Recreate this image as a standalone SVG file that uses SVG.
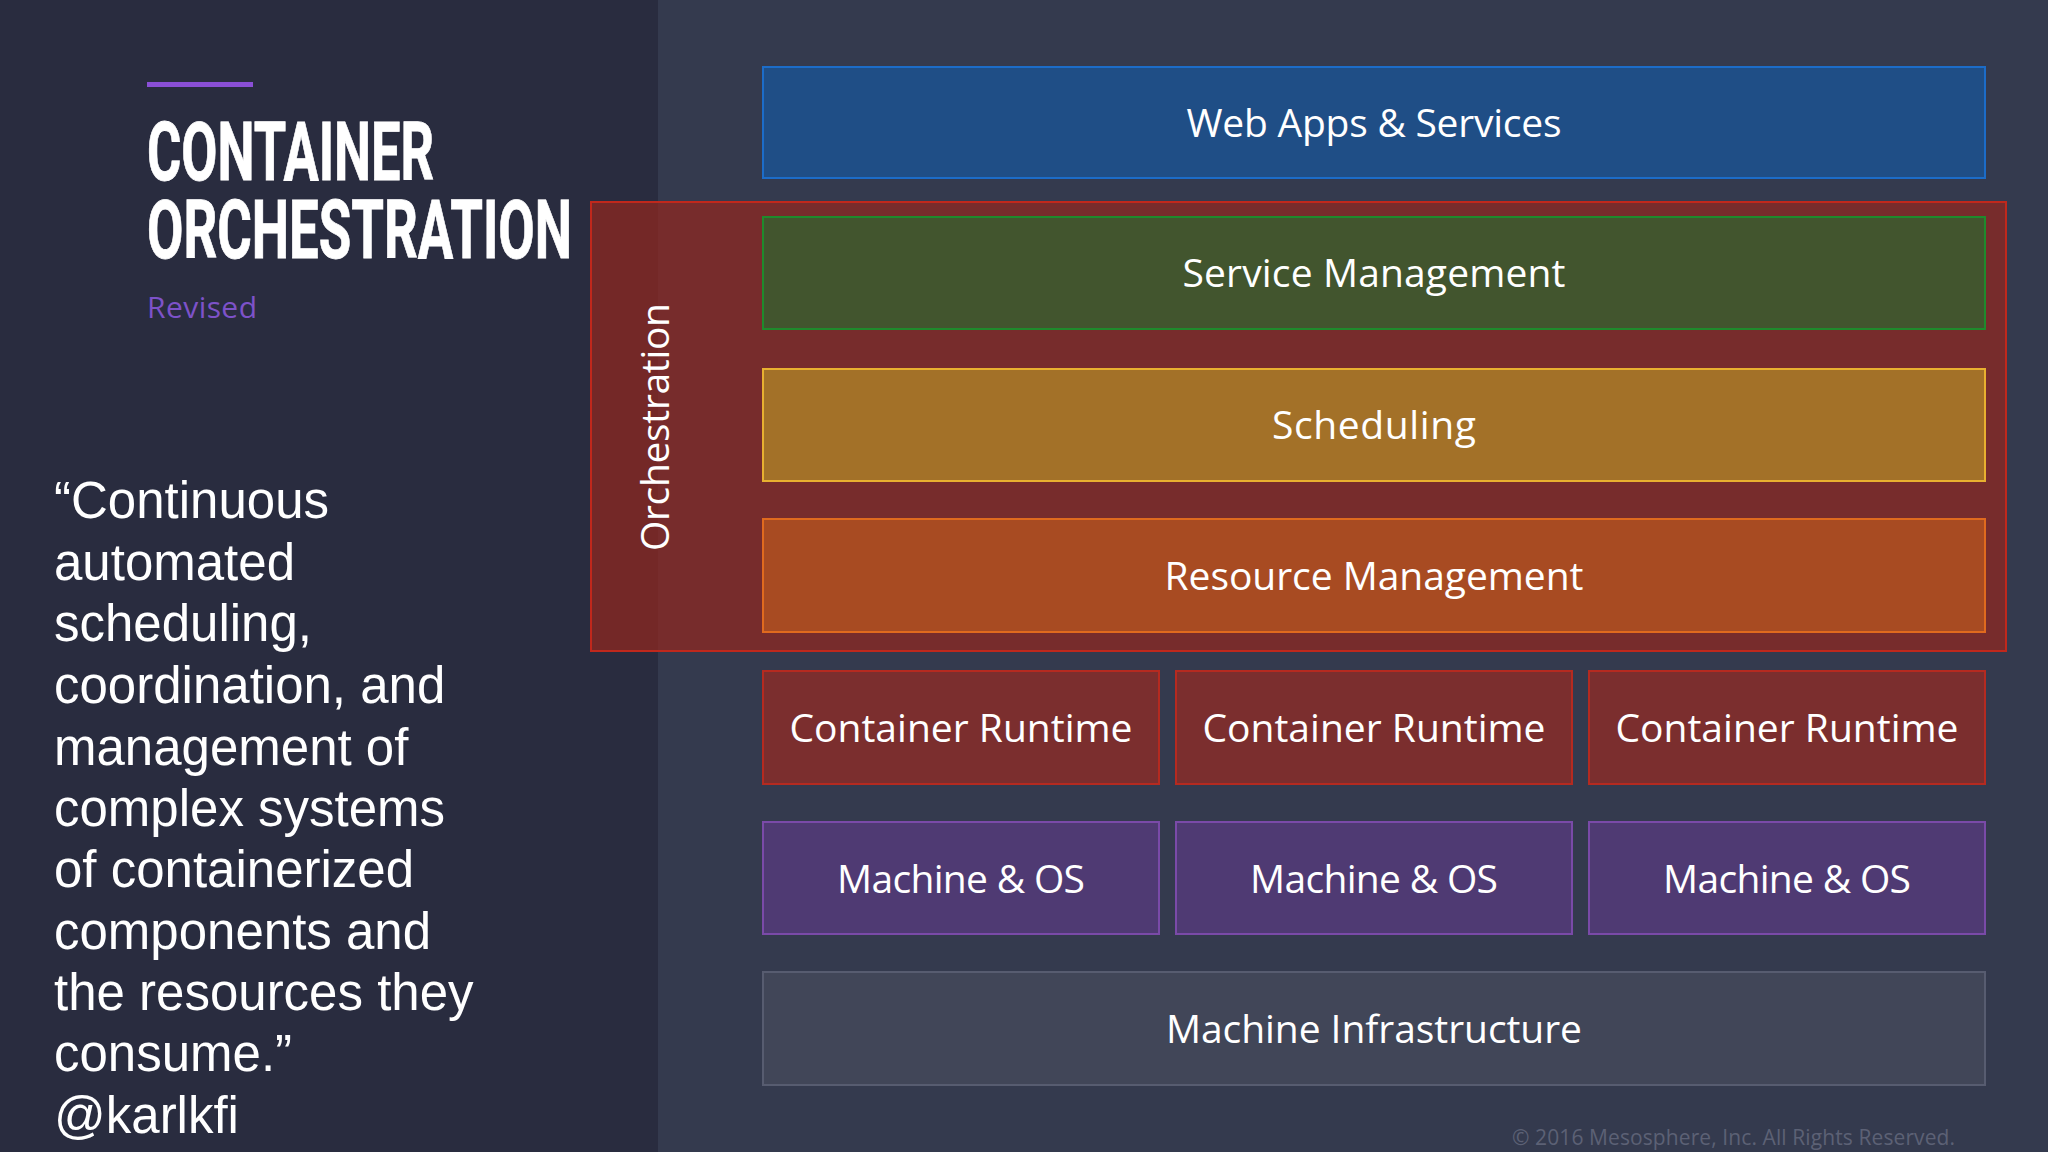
<svg xmlns="http://www.w3.org/2000/svg" width="2048" height="1152" viewBox="0 0 2048 1152">
  <style>
    .lbl { font-family: "Open Sans", "Noto Sans", "Liberation Sans", sans-serif; font-size: 39px; fill: #ffffff; text-anchor: middle; }
    .quote { font-family: "Liberation Sans", Arial, sans-serif; font-size: 51px; fill: #ffffff; }
    .title { font-family: Roboto, "Liberation Sans", sans-serif; font-weight: 700; font-size: 81px; fill: #ffffff; stroke: #ffffff; stroke-width: 0.8px; }
    .box { stroke-width: 2px; }
  </style>
  <rect x="0" y="0" width="2048" height="1152" fill="#343a4e"/>
  <rect x="0" y="0" width="658" height="1152" fill="#292c3f"/>

  <g id="title">
    <rect x="147" y="82" width="106" height="5" fill="#8a4fd6"/>
    <text class="title" x="147" y="180" textLength="287" lengthAdjust="spacingAndGlyphs">CONTAINER</text>
    <text class="title" x="147" y="258" textLength="425" lengthAdjust="spacingAndGlyphs">ORCHESTRATION</text>
    <text x="147" y="318" font-family="'Open Sans', 'Noto Sans', sans-serif" font-size="30" fill="#7d52c9" textLength="110">Revised</text>
  </g>

  <g id="quote" class="quote">
    <text x="54" y="518">“Continuous</text>
    <text x="54" y="580">automated</text>
    <text x="54" y="641">scheduling,</text>
    <text x="54" y="703">coordination, and</text>
    <text x="54" y="765">management of</text>
    <text x="54" y="826">complex systems</text>
    <text x="54" y="887">of containerized</text>
    <text x="54" y="949">components and</text>
    <text x="54" y="1010">the resources they</text>
    <text x="54" y="1071">consume.”</text>
    <text x="54" y="1133">@karlkfi</text>
  </g>

  <g id="web-apps">
    <rect class="box" x="763" y="67" width="1222" height="111" fill="#1f4e86" stroke="#1c6cc8"/>
    <text class="lbl" x="1374" y="137" textLength="375">Web Apps &amp; Services</text>
  </g>

  <g id="orchestration">
    <rect x="591" y="202" width="1415" height="449" fill="rgb(148,38,30)" fill-opacity="0.7" stroke="#c0281c" stroke-width="2"/>
    <text class="lbl" transform="translate(669,427) rotate(-90)" x="0" y="0" font-size="38" textLength="248">Orchestration</text>
  </g>

  <g id="service-management">
    <rect class="box" x="763" y="217" width="1222" height="112" fill="#42552e" stroke="#1f8a2c"/>
    <text class="lbl" x="1374" y="287" textLength="383">Service Management</text>
  </g>

  <g id="scheduling">
    <rect class="box" x="763" y="369" width="1222" height="112" fill="#a37128" stroke="#e8b030"/>
    <text class="lbl" x="1374" y="439" textLength="204">Scheduling</text>
  </g>

  <g id="resource-management">
    <rect class="box" x="763" y="519" width="1222" height="113" fill="#a84b22" stroke="#e06a1e"/>
    <text class="lbl" x="1374" y="590" textLength="419">Resource Management</text>
  </g>

  <g id="container-runtime-1">
    <rect class="box" x="763" y="671" width="396" height="113" fill="#7b2e2e" stroke="#b52a20"/>
    <text class="lbl" x="961" y="742" textLength="343">Container Runtime</text>
  </g>
  <g id="container-runtime-2">
    <rect class="box" x="1176" y="671" width="396" height="113" fill="#7b2e2e" stroke="#b52a20"/>
    <text class="lbl" x="1374" y="742" textLength="343">Container Runtime</text>
  </g>
  <g id="container-runtime-3">
    <rect class="box" x="1589" y="671" width="396" height="113" fill="#7b2e2e" stroke="#b52a20"/>
    <text class="lbl" x="1787" y="742" textLength="343">Container Runtime</text>
  </g>

  <g id="machine-os-1">
    <rect class="box" x="763" y="822" width="396" height="112" fill="#4f3a73" stroke="#7a4aa8"/>
    <text class="lbl" x="961" y="893" textLength="248">Machine &amp; OS</text>
  </g>
  <g id="machine-os-2">
    <rect class="box" x="1176" y="822" width="396" height="112" fill="#4f3a73" stroke="#7a4aa8"/>
    <text class="lbl" x="1374" y="893" textLength="248">Machine &amp; OS</text>
  </g>
  <g id="machine-os-3">
    <rect class="box" x="1589" y="822" width="396" height="112" fill="#4f3a73" stroke="#7a4aa8"/>
    <text class="lbl" x="1787" y="893" textLength="248">Machine &amp; OS</text>
  </g>

  <g id="machine-infrastructure">
    <rect class="box" x="763" y="972" width="1222" height="113" fill="#414658" stroke="#575c70"/>
    <text class="lbl" x="1374" y="1043" textLength="416">Machine Infrastructure</text>
  </g>

  <g id="connectors"></g>

  <text x="1512" y="1145" font-family="'Open Sans', 'Noto Sans', sans-serif" font-size="21" fill="#5c6175" textLength="443">© 2016 Mesosphere, Inc. All Rights Reserved.</text>
</svg>
